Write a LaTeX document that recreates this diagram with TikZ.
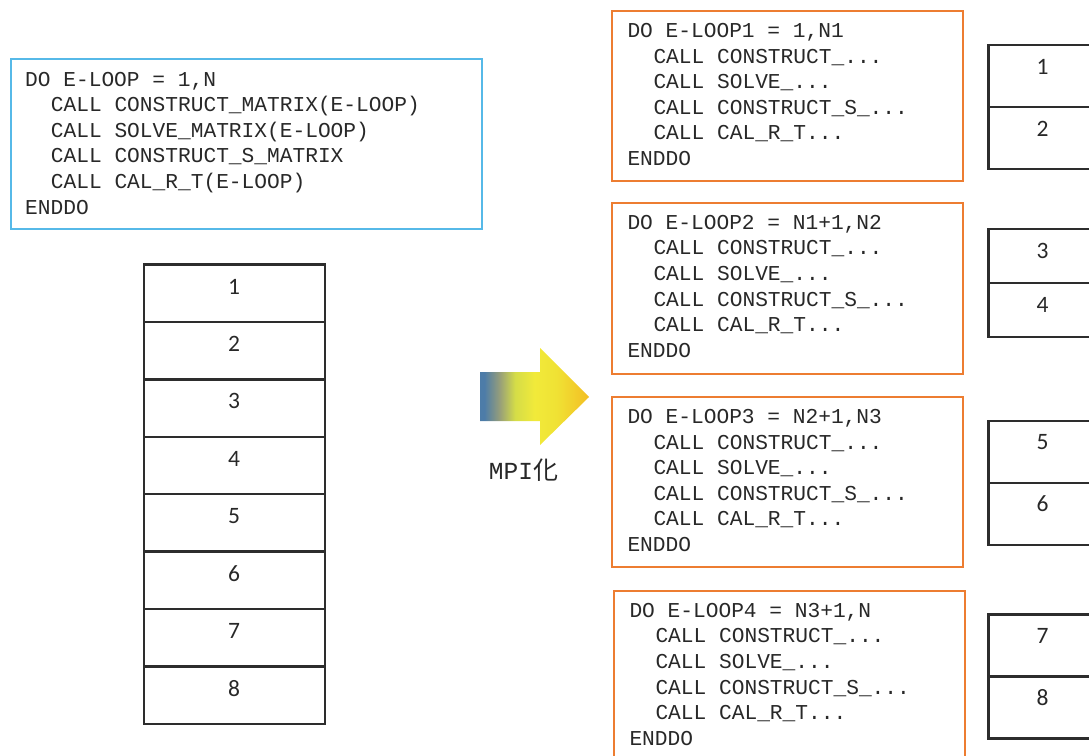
\documentclass[tikz,border=0pt]{standalone}
\usepackage{fontspec}
\usetikzlibrary{calc}
\newfontfamily\codefont{Liberation Mono}
\newfontfamily\numfont{Carlito}
\newfontfamily\cjk{Noto Sans CJK JP}
\definecolor{txt}{RGB}{40,40,40}
\definecolor{boxblue}{RGB}{86,185,232}
\definecolor{boxorange}{RGB}{237,125,49}
\definecolor{linegray}{RGB}{45,45,45}
\definecolor{arA}{RGB}{77,124,168}
\definecolor{arB}{RGB}{150,158,122}
\definecolor{arC}{RGB}{212,220,72}
\definecolor{arD}{RGB}{241,234,58}
\definecolor{arE}{RGB}{240,226,52}
\definecolor{arF}{RGB}{243,190,36}
\pgfdeclarehorizontalshading{mpishade}{100bp}{color(0bp)=(arA); color(25bp)=(arA); color(27bp)=(arA); color(34bp)=(arB); color(41bp)=(arC); color(50bp)=(arD); color(60bp)=(arE); color(75bp)=(arF); color(100bp)=(arF)}
\tikzset{
  codebox/.style={draw, line width=2pt, fill=white, anchor=north west, inner sep=0pt},
  srcbox/.style={codebox, draw=boxblue},
  parbox/.style={codebox, draw=boxorange},
  codeline/.style={anchor=base west, inner sep=0pt, text=txt, font=\codefont\fontsize{21.2}{25.6}\selectfont},
  cell/.style={draw=linegray, line width=2.4pt, anchor=north west, inner sep=0pt},
  num/.style={inner sep=0pt, text=txt, font=\numfont\fontsize{23.5}{25}\selectfont},
}
\begin{document}
\begin{tikzpicture}[x=1pt, y=-1pt]
\useasboundingbox (0,0) rectangle (1089,755);
\clip (0,0) rectangle (1089,755);

% ---- source loop (blue) ----
\node[srcbox, minimum width=471pt, minimum height=170pt] (src) at (10,58) {};
\node[codeline] (s1) at (25,86) {DO E-LOOP = 1,N};
\node[codeline] (s2) at (50.7,111.6) {CALL CONSTRUCT\_MATRIX(E-LOOP)};
\node[codeline] (s3) at (50.7,137.2) {CALL SOLVE\_MATRIX(E-LOOP)};
\node[codeline] (s4) at (50.7,162.8) {CALL CONSTRUCT\_S\_MATRIX};
\node[codeline] (s5) at (50.7,188.4) {CALL CAL\_R\_T(E-LOOP)};
\node[codeline] (s6) at (25,214) {ENDDO};

% ---- left stack 1..8 ----
\foreach \i in {1,...,8}{
  \node[cell, minimum width=181pt, minimum height=57.4pt] (L\i) at (142.5,{263.3+57.4*(\i-1)}) {};
  \node[num] (Ln\i) at ($(L\i.north)+(0,23.3)$) {\i};
}

% ---- arrow ----
\shade[shading=mpishade] (480,372) -- (540,372) -- (540,348) -- (589,397) -- (540,445) -- (540,421) -- (480,421) -- cycle;
\node[anchor=base, inner sep=0pt, text=txt] (mpi) at (523.5,479.5) {{\codefont\fontsize{24.5}{26}\selectfont MPI}{\cjk\fontsize{25}{26}\selectfont 化}};

% ---- parallel loops (orange) ----
\node[parbox, minimum width=351pt, minimum height=170pt] (p1) at (611,10) {};
\node[codeline] (p1a) at (627.3,37.5) {DO E-LOOP1 = 1,N1};
\node[codeline] (p1b) at (653.3,63.1) {CALL CONSTRUCT\_...};
\node[codeline] (p1c) at (653.3,88.7) {CALL SOLVE\_...};
\node[codeline] (p1d) at (653.3,114.3) {CALL CONSTRUCT\_S\_...};
\node[codeline] (p1e) at (653.3,139.9) {CALL CAL\_R\_T...};
\node[codeline] (p1f) at (627.3,165.5) {ENDDO};

\node[parbox, minimum width=351pt, minimum height=171pt] (p2) at (611,201.7) {};
\node[codeline] (p2a) at (627.3,229.3) {DO E-LOOP2 = N1+1,N2};
\node[codeline] (p2b) at (653.3,254.9) {CALL CONSTRUCT\_...};
\node[codeline] (p2c) at (653.3,280.5) {CALL SOLVE\_...};
\node[codeline] (p2d) at (653.3,306.1) {CALL CONSTRUCT\_S\_...};
\node[codeline] (p2e) at (653.3,331.7) {CALL CAL\_R\_T...};
\node[codeline] (p2f) at (627.3,357.3) {ENDDO};

\node[parbox, minimum width=351pt, minimum height=170pt] (p3) at (611,396) {};
\node[codeline] (p3a) at (627.3,423.5) {DO E-LOOP3 = N2+1,N3};
\node[codeline] (p3b) at (653.3,449.1) {CALL CONSTRUCT\_...};
\node[codeline] (p3c) at (653.3,474.7) {CALL SOLVE\_...};
\node[codeline] (p3d) at (653.3,500.3) {CALL CONSTRUCT\_S\_...};
\node[codeline] (p3e) at (653.3,525.9) {CALL CAL\_R\_T...};
\node[codeline] (p3f) at (627.3,551.5) {ENDDO};

\node[parbox, minimum width=351pt, minimum height=200pt] (p4) at (613,590) {};
\node[codeline] (p4a) at (629.3,617.3) {DO E-LOOP4 = N3+1,N};
\node[codeline] (p4b) at (655.3,642.9) {CALL CONSTRUCT\_...};
\node[codeline] (p4c) at (655.3,668.5) {CALL SOLVE\_...};
\node[codeline] (p4d) at (655.3,694.1) {CALL CONSTRUCT\_S\_...};
\node[codeline] (p4e) at (655.3,719.7) {CALL CAL\_R\_T...};
\node[codeline] (p4f) at (629.3,745.3) {ENDDO};

% ---- right stacks ----
\node[cell, minimum width=108pt, minimum height=62pt] (R1) at (987.3,44) {};
\node[cell, minimum width=108pt, minimum height=62pt] (R2) at (987.3,106) {};
\node[cell, minimum width=108pt, minimum height=54pt] (R3) at (987.3,228) {};
\node[cell, minimum width=108pt, minimum height=54pt] (R4) at (987.3,282) {};
\node[cell, minimum width=108pt, minimum height=62pt] (R5) at (987.3,419.5) {};
\node[cell, minimum width=108pt, minimum height=62pt] (R6) at (987.3,481.5) {};
\node[cell, minimum width=108pt, minimum height=62pt] (R7) at (987.3,613.3) {};
\node[cell, minimum width=108pt, minimum height=62pt] (R8) at (987.3,675.3) {};
\foreach \i in {1,...,8}{
  \node[num] (Rn\i) at ($(R\i.north)+(0,22.5)$) {\i};
}
\end{tikzpicture}
\end{document}
